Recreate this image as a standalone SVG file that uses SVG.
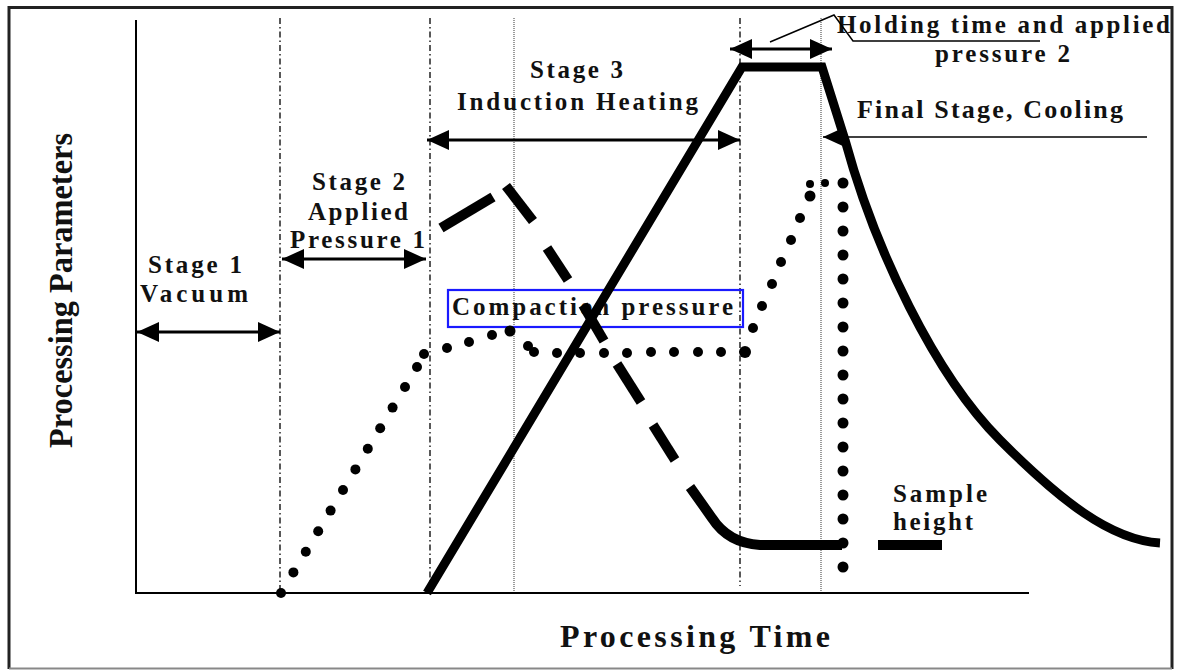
<svg xmlns="http://www.w3.org/2000/svg" width="1178" height="670" viewBox="0 0 1178 670">
<style>
.t{font-family:"Liberation Serif","Times New Roman",serif;font-weight:bold;font-size:25px;fill:#111}
.dd{stroke:#222;stroke-width:1.5;stroke-dasharray:6 3 1.5 3;fill:none}
.fd{stroke:#666;stroke-width:1.3;stroke-dasharray:1 1;fill:none}
.ar{stroke:#000;stroke-width:3;fill:none;marker-start:url(#ah);marker-end:url(#ah)}
.thin{stroke:#000;stroke-width:1.5;fill:none}
.d{fill:#000}
</style>
<defs>
<marker id="ah" viewBox="0 0 22 20" refX="22" refY="10" markerWidth="22" markerHeight="20" markerUnits="userSpaceOnUse" orient="auto-start-reverse">
<path d="M0,0 L22,10 L0,20 Z" fill="#000"/>
</marker>
</defs>
<rect width="1178" height="670" fill="#fff"/>
<g id="frame">
<path d="M9,669 L9,7.5 L1172,7.5 L1172,669" fill="none" stroke="#222" stroke-width="3"/>
<line x1="9" y1="668.5" x2="1172" y2="668.5" stroke="#888" stroke-width="2"/>
</g>
<g id="axes">
<line x1="136" y1="20" x2="136" y2="594" stroke="#000" stroke-width="2"/>
<line x1="135" y1="593" x2="1029" y2="593" stroke="#000" stroke-width="2"/>
<text class="t" transform="translate(72,290.5) rotate(-90)" text-anchor="middle" textLength="315" lengthAdjust="spacingAndGlyphs" style="font-size:33px">Processing Parameters</text>
<text class="t" x="560" y="647" style="font-size:32px" textLength="270" lengthAdjust="spacing">Processing Time</text>
</g>
<g id="stage-lines">
<line class="dd" x1="280" y1="18" x2="280" y2="592"/>
<line class="dd" x1="430" y1="18" x2="430" y2="592"/>
<line class="fd" x1="514" y1="18" x2="514" y2="592"/>
<line class="dd" x1="740" y1="18" x2="740" y2="586"/>
<line class="fd" x1="821" y1="18" x2="821" y2="592"/>
</g>
<g id="compaction-label">
<rect x="448" y="290" width="295" height="37" fill="none" stroke="#1a1aff" stroke-width="2.2"/>
<text class="t" x="452" y="315" textLength="281" lengthAdjust="spacing">Compaction pressure</text>
</g>
<g id="labels">
<text class="t" x="837" y="33" textLength="333" lengthAdjust="spacing">Holding time and applied</text>
<text class="t" x="935" y="62" textLength="135" lengthAdjust="spacing">pressure 2</text>
<text class="t" x="857" y="118" style="font-size:26px" textLength="266" lengthAdjust="spacing">Final Stage, Cooling</text>
<text class="t" x="530" y="78" textLength="93" lengthAdjust="spacing">Stage 3</text>
<text class="t" x="457" y="110" textLength="241" lengthAdjust="spacing">Induction Heating</text>
<text class="t" x="312" y="190" textLength="93" lengthAdjust="spacing">Stage 2</text>
<text class="t" x="308" y="220" textLength="100" lengthAdjust="spacing">Applied</text>
<text class="t" x="290" y="248" textLength="135" lengthAdjust="spacing">Pressure 1</text>
<text class="t" x="148" y="273" textLength="94" lengthAdjust="spacing">Stage 1</text>
<text class="t" x="140" y="302" textLength="108" lengthAdjust="spacing">Vacuum</text>
<text class="t" x="893" y="502" textLength="94" lengthAdjust="spacing">Sample</text>
<text class="t" x="893" y="530" textLength="80" lengthAdjust="spacing">height</text>
</g>
<g id="connectors">
<line class="ar" x1="137" y1="332" x2="280" y2="332"/>
<line class="ar" x1="282" y1="259" x2="426" y2="259"/>
<line class="ar" x1="427" y1="140" x2="740" y2="140"/>
<line class="ar" x1="730" y1="49" x2="832" y2="49"/>
<line x1="1147" y1="137" x2="823" y2="137" stroke="#000" stroke-width="1.6" marker-end="url(#ah)"/>
<path class="thin" d="M770,42 L834,15 L853,41 L1040,41"/>
</g>
<g id="curves">
<path d="M427,593 L742,67 L822,67 L845,140 C875,250 935,375 1000,440 C1060,500 1110,540 1160,543" fill="none" stroke="#000" stroke-width="9" stroke-linejoin="miter"/>
<g fill="none" stroke="#000" stroke-width="10">
<path d="M441,228 L493,197"/>
<path d="M506,186 L533,221"/>
<path d="M547,248 L568,280"/>
<path d="M583,305 L604,341"/>
<path d="M617,364 L641,402"/>
<path d="M653,425 L675,460"/>
<path d="M690,487 L712,518 Q728,543 760,545 L842,545"/>
<path d="M878,545 L942,545"/>
</g>
<g id="dots">
<circle class="d" cx="281" cy="593" r="5"/>
<circle class="d" cx="293.4" cy="572.4" r="5"/>
<circle class="d" cx="305.8" cy="551.8" r="5"/>
<circle class="d" cx="318.2" cy="531.2" r="5"/>
<circle class="d" cx="330.6" cy="510.6" r="5"/>
<circle class="d" cx="343" cy="490" r="5"/>
<circle class="d" cx="355.4" cy="469.4" r="5"/>
<circle class="d" cx="367.8" cy="448.8" r="5"/>
<circle class="d" cx="380.2" cy="428.2" r="5"/>
<circle class="d" cx="392.6" cy="407.6" r="5"/>
<circle class="d" cx="405" cy="387" r="5"/>
<circle class="d" cx="417" cy="367" r="5"/>
<circle class="d" cx="424" cy="354" r="5"/>
<circle class="d" cx="447" cy="348" r="5"/>
<circle class="d" cx="469" cy="342" r="5"/>
<circle class="d" cx="492" cy="335" r="5"/>
<circle class="d" cx="510" cy="331" r="5.5"/>
<circle class="d" cx="528" cy="346" r="5"/>
<circle class="d" cx="534" cy="352" r="5"/>
<circle class="d" cx="557" cy="353" r="5"/>
<circle class="d" cx="580" cy="353" r="5"/>
<circle class="d" cx="604" cy="353" r="5"/>
<circle class="d" cx="627" cy="353" r="5"/>
<circle class="d" cx="651" cy="352" r="5"/>
<circle class="d" cx="674" cy="352" r="5"/>
<circle class="d" cx="698" cy="352" r="5"/>
<circle class="d" cx="721" cy="352" r="5"/>
<circle class="d" cx="745" cy="352" r="6"/>
<circle class="d" cx="753" cy="328" r="5"/>
<circle class="d" cx="762" cy="306" r="5"/>
<circle class="d" cx="772" cy="284" r="5"/>
<circle class="d" cx="781" cy="262" r="5"/>
<circle class="d" cx="791" cy="240" r="5"/>
<circle class="d" cx="800" cy="218" r="5"/>
<circle class="d" cx="810" cy="196" r="5.5"/>
<circle class="d" cx="810" cy="184" r="4"/>
<circle class="d" cx="825" cy="183" r="4"/>
<circle class="d" cx="843" cy="183" r="5.5"/>
<circle class="d" cx="843" cy="207" r="5.5"/>
<circle class="d" cx="843" cy="231" r="5.5"/>
<circle class="d" cx="843" cy="255" r="5.5"/>
<circle class="d" cx="843" cy="279" r="5.5"/>
<circle class="d" cx="843" cy="303" r="5.5"/>
<circle class="d" cx="843" cy="327" r="5.5"/>
<circle class="d" cx="843" cy="351" r="5.5"/>
<circle class="d" cx="843" cy="375" r="5.5"/>
<circle class="d" cx="843" cy="399" r="5.5"/>
<circle class="d" cx="843" cy="423" r="5.5"/>
<circle class="d" cx="843" cy="447" r="5.5"/>
<circle class="d" cx="843" cy="471" r="5.5"/>
<circle class="d" cx="843" cy="495" r="5.5"/>
<circle class="d" cx="843" cy="519" r="5.5"/>
<circle class="d" cx="843" cy="543" r="5.5"/>
<circle class="d" cx="843" cy="567" r="5.5"/>
</g>
</g>
</svg>
